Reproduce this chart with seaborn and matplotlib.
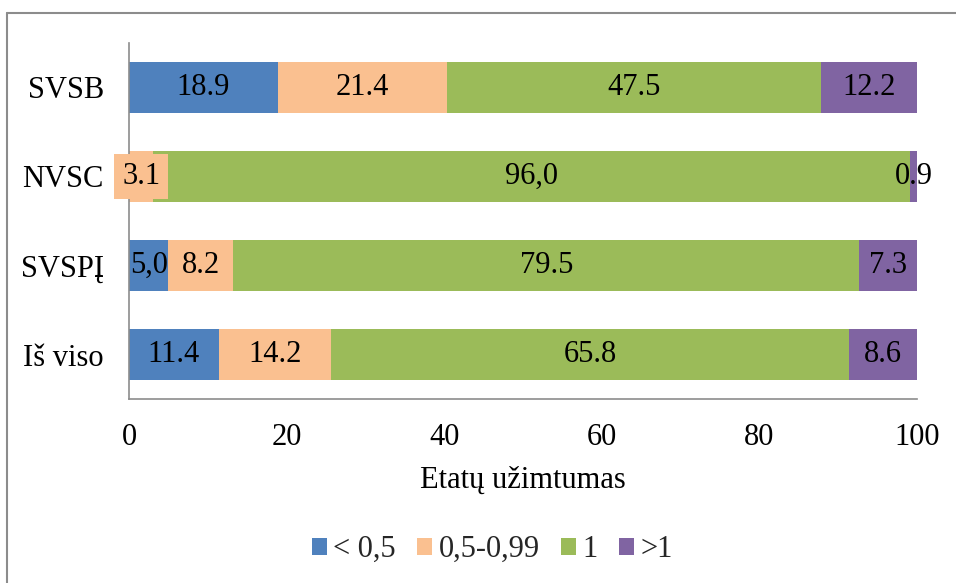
import matplotlib
matplotlib.use("Agg")
import matplotlib.pyplot as plt
import seaborn as sns
import numpy as np
import pandas as pd
from matplotlib.lines import Line2D
from matplotlib.patches import Patch

sns.set_theme(style="white")
plt.rcParams["font.family"] = ["Liberation Serif", "DejaVu Serif"]

categories = ["SVSB", "NVSC", "SVSPĮ", "Iš viso"]
series_names = ["< 0,5", "0,5-0,99", "1", ">1"]
lt_05 = [18.9, 0.0, 5.0, 11.4]
mid = [21.4, 3.1, 8.2, 14.2]
one = [47.5, 96.0, 79.5, 65.8]
gt_1 = [12.2, 0.9, 7.3, 8.6]
value_labels = [
    ["18.9", "21.4", "47.5", "12.2"],
    ["", "3.1", "96,0", "0.9"],
    ["5,0", "8.2", "79.5", "7.3"],
    ["11.4", "14.2", "65.8", "8.6"],
]
x_ticks = [0, 20, 40, 60, 80, 100]
colors = ["#4F81BD", "#FAC090", "#9BBB59", "#8064A2"]

FS = 22

values = np.array([lt_05, mid, one, gt_1]).T  # rows: categories
cum = np.cumsum(values, axis=1)

fig = plt.figure(figsize=(9.56, 5.83), dpi=100)
ax = fig.add_axes([0.1349, 0.3156, 0.8243, 0.6107])

# stacked bars: draw cumulative totals from the outermost segment inwards
for j in range(3, -1, -1):
    df = pd.DataFrame({"cat": categories, "val": cum[:, j]})
    sns.barplot(data=df, x="val", y="cat", order=categories, orient="y",
                color=colors[j], width=0.57, linewidth=0, saturation=1,
                ax=ax)

for i in range(len(categories)):
    for j in range(4):
        txt = value_labels[i][j]
        if not txt:
            continue
        center = cum[i, j] - values[i, j] / 2
        kw = {}
        if categories[i] == "NVSC" and j == 1:
            kw["bbox"] = dict(boxstyle="square,pad=0.27", fc=colors[1], ec="none")
        ax.text(center, i, txt, ha="center", va="center", fontsize=FS,
                color="black", **kw)

ax.set_xlim(0, 100)
ax.set_xticks(x_ticks)
ax.set_xticklabels([str(t) for t in x_ticks])
ax.set_xlabel("Etatų užimtumas", fontsize=FS, labelpad=10, color="black")
ax.set_ylabel("")
ax.tick_params(axis="x", length=0, pad=17, labelsize=FS, labelcolor="black")
ax.tick_params(axis="y", length=0, pad=18, labelsize=FS, labelcolor="black")
for s in ["top", "right"]:
    ax.spines[s].set_visible(False)
for s in ["left", "bottom"]:
    ax.spines[s].set_color("#8c8c8c")
    ax.spines[s].set_linewidth(1.2)

handles = [Patch(facecolor=c, edgecolor="none") for c in colors]
fig.legend(handles, series_names, loc="center", bbox_to_anchor=(0.515, 0.057),
           ncol=4, frameon=False, fontsize=FS, handlelength=0.5,
           handleheight=0.5, handletextpad=0.2, columnspacing=0.7)

# chart frame
fig.add_artist(Line2D([7 / 956, 7 / 956], [0, 1 - 13 / 583], color="#8c8c8c",
                      lw=1.5, transform=fig.transFigure))
fig.add_artist(Line2D([7 / 956, 1], [1 - 13 / 583, 1 - 13 / 583], color="#8c8c8c",
                      lw=1.5, transform=fig.transFigure))

fig.savefig("out.png", dpi=100)
